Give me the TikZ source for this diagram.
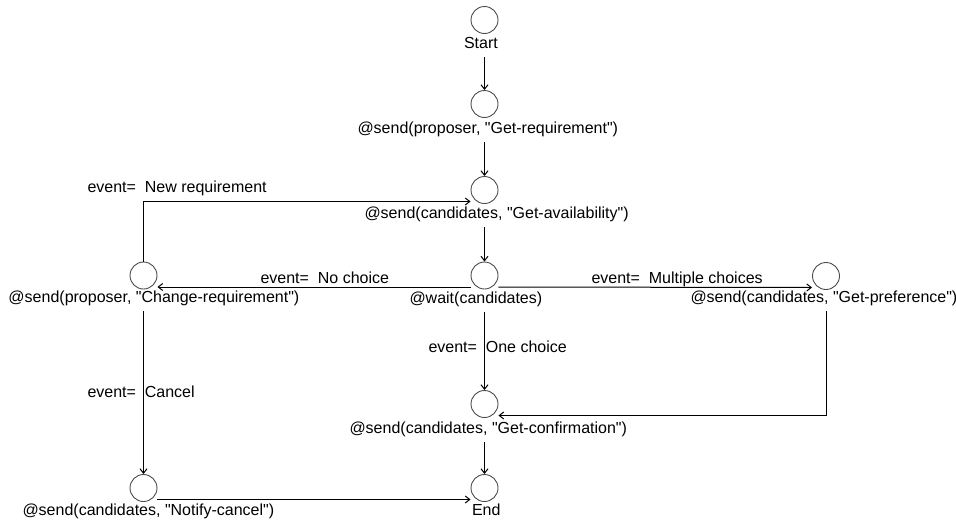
\documentclass[tikz,border=0pt]{standalone}
\usepackage{fontspec}
\setmainfont{Liberation Sans}[Ligatures=TeXOff]
\usetikzlibrary{arrows.meta,calc}
\begin{document}
\begin{tikzpicture}[x=1pt,y=-1pt,
  st/.style={circle, draw=black!70, line width=0.9pt, minimum size=27pt, inner sep=0pt},
  lbl/.style={font=\fontsize{16}{19}\selectfont, inner sep=0pt, text depth=0pt, outer xsep=0pt, outer ysep=8.5pt, anchor=base west},
  edge/.style={line width=1pt, -{Straight Barb[length=4.5pt,width=7pt]}},
]
\useasboundingbox (0,0) rectangle (956,523);
% states
\node[st] (start) at (484.5,20) {};
\node[st] (n2) at (484.5,104) {};
\node[st] (n3) at (484.5,190) {};
\node[st] (wait) at (484.5,275.5) {};
\node[st] (chg) at (143.5,275.5) {};
\node[st] (pref) at (826,276) {};
\node[st] (conf) at (484.5,404) {};
\node[st] (ncl) at (143.5,488) {};
\node[st] (fin) at (484.5,488) {};
% state labels
\node[lbl] (startL) at (464,48.5) {Start};
\node[lbl] (n2L) at (357.5,133.5) {@send(proposer, "Get-requirement")};
\node[lbl] (n3L) at (364.5,218.5) {@send(candidates, "Get-availability")};
\node[lbl] (waitL) at (409.5,303.5) {@wait(candidates)};
\node[lbl] (chgL) at (8.5,302.5) {@send(proposer, "Change-requirement")};
\node[lbl] (prefL) at (690.5,302.5) {@send(candidates, "Get-preference")};
\node[lbl] (confL) at (349.5,433.5) {@send(candidates, "Get-confirmation")};
\node[lbl] (nclL) at (22.5,515.5) {@send(candidates, "Notify-cancel")};
\node[lbl] (finL) at (472,515.5) {End};
% edge labels
\node[lbl] (eNew) at (87.5,192.5) {event=\ \ New requirement};
\node[lbl] (eNo) at (260.5,283.5) {event=\ \ No choice};
\node[lbl] (eMul) at (591.5,283.5) {event=\ \ Multiple choices};
\node[lbl] (eOne) at (428.5,352.5) {event=\ \ One choice};
\node[lbl] (eCan) at (87.5,397.5) {event=\ \ Cancel};
% edges
\draw[edge] (startL.south -| start) -- (n2);
\draw[edge] (n2L.south -| n2) -- (n3);
\draw[edge] (n3L.south -| n3) -- (wait);
\draw[edge] ([yshift=-11.5pt]wait.west) -- ([yshift=-11.5pt]chg.east);
\draw[edge] ([yshift=-11.5pt]wait.east) -- ([yshift=-11.5pt]pref.west);
\draw[edge] (waitL.south -| wait) -- (conf);
\draw[edge] (chg.north) |- ([yshift=-11.5pt]n3.west);
\draw[edge] (chgL.south -| chg) -- (ncl);
\draw[edge] (prefL.south -| pref) |- ([yshift=-11.5pt]conf.east);
\draw[edge] (confL.south -| conf) -- (fin);
\draw[edge] ([yshift=-11.5pt]ncl.east) -- ([yshift=-11.5pt]fin.west);
\end{tikzpicture}
\end{document}
